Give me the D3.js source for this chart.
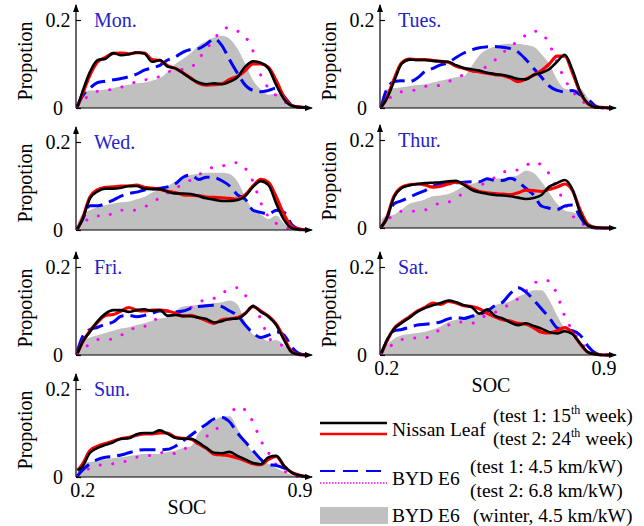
<!DOCTYPE html>
<html>
<head>
<meta charset="utf-8">
<script src="https://cdn.jsdelivr.net/npm/d3@7"></script>
<style>
  body { margin: 0; background: #fff; }
</style>
</head>
<body>
<script>
// SOC grid shared by every series
const soc = [0.185, 0.2, 0.225, 0.25, 0.275, 0.3, 0.325, 0.35, 0.375, 0.4, 0.425, 0.45, 0.475, 0.5,
  0.525, 0.55, 0.575, 0.6, 0.625, 0.65, 0.675, 0.7, 0.725, 0.75, 0.775, 0.8, 0.825, 0.85, 0.875, 0.9, 0.925];

const days = ["Mon.", "Tues.", "Wed.", "Thur.", "Fri.", "Sat.", "Sun."];

// Nissan Leaf, test 1 (15th week) - black
const nissanTest1 = [
  [0.003, 0.035, 0.082, 0.109, 0.112, 0.125, 0.12, 0.122, 0.126, 0.124, 0.105, 0.109, 0.094, 0.09, 0.079, 0.067, 0.058, 0.054, 0.056, 0.054, 0.06, 0.07, 0.094, 0.106, 0.103, 0.09, 0.052, 0.02, 0.005, 0.002, 0.001],
  [0.003, 0.019, 0.06, 0.101, 0.11, 0.109, 0.109, 0.107, 0.106, 0.105, 0.097, 0.091, 0.088, 0.085, 0.08, 0.077, 0.075, 0.071, 0.066, 0.065, 0.075, 0.08, 0.088, 0.105, 0.121, 0.086, 0.037, 0.01, 0.002, 0.001, 0],
  [0.003, 0.023, 0.072, 0.088, 0.094, 0.094, 0.096, 0.1, 0.1, 0.094, 0.093, 0.093, 0.087, 0.083, 0.083, 0.082, 0.077, 0.072, 0.069, 0.066, 0.066, 0.068, 0.077, 0.098, 0.111, 0.102, 0.06, 0.023, 0.004, 0.001, 0],
  [0.003, 0.019, 0.07, 0.091, 0.097, 0.1, 0.102, 0.103, 0.104, 0.106, 0.107, 0.098, 0.087, 0.081, 0.078, 0.075, 0.074, 0.072, 0.069, 0.066, 0.068, 0.075, 0.094, 0.102, 0.109, 0.087, 0.034, 0.005, 0.001, 0, 0],
  [0.004, 0.028, 0.053, 0.077, 0.094, 0.102, 0.102, 0.098, 0.102, 0.104, 0.1, 0.102, 0.089, 0.091, 0.089, 0.088, 0.085, 0.082, 0.074, 0.077, 0.082, 0.083, 0.094, 0.111, 0.098, 0.087, 0.068, 0.034, 0.006, 0.001, 0],
  [0.004, 0.03, 0.059, 0.073, 0.085, 0.098, 0.107, 0.113, 0.118, 0.124, 0.12, 0.113, 0.109, 0.094, 0.104, 0.089, 0.083, 0.074, 0.068, 0.072, 0.066, 0.06, 0.052, 0.049, 0.054, 0.047, 0.026, 0.006, 0.002, 0, 0],
  [0.015, 0.023, 0.055, 0.066, 0.073, 0.079, 0.087, 0.088, 0.097, 0.1, 0.1, 0.106, 0.098, 0.089, 0.087, 0.087, 0.078, 0.066, 0.055, 0.054, 0.057, 0.048, 0.04, 0.032, 0.029, 0.045, 0.048, 0.025, 0.01, 0.004, 0.001]
];

// Nissan Leaf, test 2 (24th week) - red
const nissanTest2 = [
  [0.004, 0.03, 0.075, 0.105, 0.115, 0.124, 0.125, 0.123, 0.126, 0.125, 0.11, 0.108, 0.096, 0.09, 0.08, 0.068, 0.056, 0.052, 0.053, 0.055, 0.065, 0.072, 0.085, 0.1, 0.1, 0.092, 0.062, 0.025, 0.006, 0.002, 0.001],
  [0.003, 0.02, 0.065, 0.103, 0.111, 0.11, 0.11, 0.108, 0.106, 0.104, 0.095, 0.09, 0.085, 0.082, 0.079, 0.076, 0.074, 0.068, 0.06, 0.066, 0.075, 0.085, 0.1, 0.118, 0.118, 0.08, 0.035, 0.009, 0.002, 0.001, 0],
  [0.003, 0.025, 0.075, 0.092, 0.097, 0.098, 0.1, 0.1, 0.102, 0.097, 0.095, 0.092, 0.088, 0.085, 0.08, 0.079, 0.078, 0.075, 0.074, 0.073, 0.072, 0.07, 0.08, 0.1, 0.115, 0.108, 0.075, 0.035, 0.008, 0.002, 0],
  [0.003, 0.02, 0.072, 0.093, 0.098, 0.1, 0.098, 0.093, 0.095, 0.1, 0.104, 0.1, 0.09, 0.083, 0.08, 0.078, 0.077, 0.076, 0.08, 0.086, 0.085, 0.083, 0.088, 0.093, 0.1, 0.085, 0.04, 0.008, 0.001, 0, 0],
  [0.004, 0.028, 0.055, 0.075, 0.09, 0.092, 0.1, 0.108, 0.102, 0.1, 0.102, 0.102, 0.1, 0.095, 0.088, 0.09, 0.085, 0.078, 0.072, 0.08, 0.082, 0.085, 0.095, 0.11, 0.1, 0.088, 0.07, 0.038, 0.008, 0.001, 0],
  [0.004, 0.028, 0.06, 0.075, 0.087, 0.1, 0.108, 0.118, 0.115, 0.122, 0.118, 0.112, 0.11, 0.105, 0.095, 0.087, 0.08, 0.077, 0.072, 0.07, 0.062, 0.052, 0.05, 0.055, 0.062, 0.05, 0.025, 0.006, 0.002, 0, 0],
  [0.015, 0.028, 0.06, 0.07, 0.076, 0.082, 0.087, 0.09, 0.095, 0.098, 0.098, 0.1, 0.1, 0.09, 0.088, 0.086, 0.075, 0.065, 0.052, 0.05, 0.048, 0.043, 0.037, 0.03, 0.028, 0.04, 0.047, 0.025, 0.01, 0.004, 0.001]
];

// BYD E6, test 1 (4.5 km/kW) - blue dashed
const bydTest1 = [
  [0.005, 0.026, 0.045, 0.058, 0.061, 0.064, 0.067, 0.071, 0.077, 0.086, 0.091, 0.097, 0.109, 0.116, 0.127, 0.133, 0.135, 0.145, 0.157, 0.142, 0.109, 0.079, 0.052, 0.04, 0.037, 0.04, 0.045, 0.026, 0.007, 0.002, 0.001],
  [0.005, 0.04, 0.06, 0.062, 0.06, 0.068, 0.083, 0.09, 0.098, 0.103, 0.115, 0.125, 0.132, 0.137, 0.139, 0.14, 0.138, 0.135, 0.127, 0.11, 0.09, 0.07, 0.05, 0.04, 0.037, 0.04, 0.03, 0.02, 0.004, 0, 0],
  [0.003, 0.022, 0.055, 0.055, 0.06, 0.068, 0.077, 0.083, 0.086, 0.091, 0.093, 0.095, 0.098, 0.105, 0.12, 0.125, 0.115, 0.12, 0.119, 0.112, 0.1, 0.08, 0.07, 0.045, 0.04, 0.036, 0.045, 0.04, 0.012, 0.002, 0],
  [0.003, 0.02, 0.055, 0.062, 0.07, 0.078, 0.085, 0.095, 0.1, 0.102, 0.103, 0.104, 0.105, 0.105, 0.112, 0.108, 0.108, 0.113, 0.105, 0.09, 0.075, 0.05, 0.045, 0.042, 0.05, 0.052, 0.025, 0.003, 0, 0, 0],
  [0.01, 0.04, 0.058, 0.063, 0.07, 0.075, 0.088, 0.09, 0.087, 0.09, 0.095, 0.1, 0.1, 0.098, 0.1, 0.106, 0.11, 0.112, 0.113, 0.11, 0.1, 0.09, 0.068, 0.05, 0.04, 0.045, 0.053, 0.045, 0.018, 0.003, 0],
  [0.005, 0.03, 0.055, 0.058, 0.063, 0.068, 0.07, 0.072, 0.075, 0.082, 0.085, 0.083, 0.088, 0.092, 0.1, 0.112, 0.12, 0.14, 0.153, 0.143, 0.125, 0.105, 0.085, 0.062, 0.057, 0.055, 0.045, 0.02, 0.004, 0, 0],
  [0.003, 0.015, 0.03, 0.04, 0.045, 0.047, 0.05, 0.055, 0.06, 0.062, 0.062, 0.062, 0.063, 0.07, 0.082, 0.095, 0.108, 0.12, 0.132, 0.135, 0.125, 0.1, 0.08, 0.06, 0.04, 0.028, 0.026, 0.02, 0.01, 0.003, 0]
];

// BYD E6, test 2 (6.8 km/kW) - magenta dotted
const bydTest2 = [
  [0.003, 0.015, 0.03, 0.038, 0.04, 0.043, 0.047, 0.053, 0.06, 0.064, 0.066, 0.072, 0.082, 0.085, 0.088, 0.092, 0.112, 0.134, 0.156, 0.178, 0.183, 0.175, 0.162, 0.13, 0.075, 0.045, 0.028, 0.015, 0.005, 0.001, 0],
  [0.003, 0.015, 0.03, 0.037, 0.039, 0.042, 0.049, 0.05, 0.052, 0.06, 0.068, 0.076, 0.082, 0.086, 0.095, 0.109, 0.125, 0.14, 0.152, 0.166, 0.175, 0.17, 0.145, 0.105, 0.065, 0.038, 0.02, 0.006, 0.001, 0, 0],
  [0.003, 0.012, 0.028, 0.032, 0.03, 0.04, 0.045, 0.044, 0.046, 0.052, 0.063, 0.073, 0.084, 0.095, 0.104, 0.114, 0.125, 0.137, 0.143, 0.145, 0.152, 0.153, 0.14, 0.11, 0.062, 0.03, 0.015, 0.006, 0.002, 0, 0],
  [0.002, 0.015, 0.03, 0.038, 0.038, 0.039, 0.041, 0.05, 0.057, 0.059, 0.068, 0.08, 0.089, 0.096, 0.105, 0.115, 0.126, 0.132, 0.132, 0.142, 0.15, 0.143, 0.123, 0.09, 0.058, 0.028, 0.012, 0.004, 0.001, 0, 0],
  [0.002, 0.012, 0.025, 0.035, 0.036, 0.036, 0.045, 0.053, 0.064, 0.065, 0.075, 0.087, 0.09, 0.094, 0.1, 0.108, 0.12, 0.126, 0.129, 0.14, 0.15, 0.153, 0.136, 0.112, 0.082, 0.04, 0.027, 0.02, 0.008, 0.001, 0],
  [0.003, 0.012, 0.026, 0.035, 0.038, 0.039, 0.039, 0.045, 0.06, 0.068, 0.075, 0.075, 0.072, 0.08, 0.092, 0.097, 0.105, 0.118, 0.128, 0.145, 0.162, 0.17, 0.168, 0.138, 0.088, 0.056, 0.03, 0.012, 0.003, 0, 0],
  [0.003, 0.01, 0.02, 0.026, 0.029, 0.03, 0.033, 0.038, 0.045, 0.047, 0.05, 0.055, 0.056, 0.053, 0.062, 0.072, 0.079, 0.092, 0.105, 0.12, 0.14, 0.16, 0.152, 0.125, 0.083, 0.055, 0.028, 0.014, 0.005, 0.001, 0]
];

// BYD E6, winter (4.5 km/kW) - grey area
const bydWinter = [
  [0.01, 0.035, 0.04, 0.04, 0.042, 0.045, 0.05, 0.053, 0.056, 0.058, 0.062, 0.068, 0.082, 0.1, 0.112, 0.125, 0.142, 0.152, 0.16, 0.164, 0.157, 0.135, 0.1, 0.063, 0.042, 0.03, 0.033, 0.025, 0.006, 0.001, 0],
  [0.02, 0.042, 0.045, 0.047, 0.05, 0.052, 0.054, 0.058, 0.062, 0.066, 0.07, 0.072, 0.095, 0.12, 0.133, 0.14, 0.145, 0.146, 0.146, 0.143, 0.139, 0.122, 0.1, 0.065, 0.044, 0.041, 0.043, 0.022, 0.003, 0, 0],
  [0.015, 0.035, 0.045, 0.052, 0.056, 0.06, 0.063, 0.065, 0.07, 0.075, 0.085, 0.092, 0.1, 0.11, 0.12, 0.125, 0.128, 0.13, 0.13, 0.13, 0.127, 0.11, 0.075, 0.045, 0.035, 0.025, 0.033, 0.015, 0.003, 0, 0],
  [0.02, 0.027, 0.03, 0.042, 0.055, 0.06, 0.065, 0.072, 0.074, 0.077, 0.085, 0.095, 0.1, 0.105, 0.11, 0.112, 0.113, 0.116, 0.12, 0.13, 0.125, 0.105, 0.08, 0.055, 0.04, 0.036, 0.03, 0.01, 0.002, 0, 0],
  [0.008, 0.03, 0.04, 0.045, 0.05, 0.055, 0.06, 0.063, 0.068, 0.072, 0.078, 0.083, 0.086, 0.1, 0.11, 0.112, 0.114, 0.116, 0.118, 0.12, 0.124, 0.115, 0.075, 0.047, 0.04, 0.032, 0.034, 0.022, 0.005, 0, 0],
  [0.01, 0.022, 0.037, 0.045, 0.048, 0.05, 0.053, 0.058, 0.065, 0.075, 0.08, 0.082, 0.09, 0.094, 0.105, 0.113, 0.118, 0.122, 0.133, 0.14, 0.147, 0.147, 0.125, 0.09, 0.06, 0.042, 0.028, 0.01, 0.002, 0, 0],
  [0.012, 0.033, 0.034, 0.038, 0.04, 0.043, 0.045, 0.048, 0.05, 0.052, 0.052, 0.053, 0.057, 0.06, 0.066, 0.07, 0.1, 0.116, 0.128, 0.137, 0.138, 0.11, 0.08, 0.055, 0.035, 0.03, 0.02, 0.012, 0.005, 0.001, 0]
];

const yTicks = [0, 0.2];
const xTicks = [0.2, 0.9];

let width = 644;
let height = 526;
let serif = "'Liberation Serif', 'Times New Roman', serif";
// where each panel's axes cross (y axis x, zero line y)
let panels = [
  { x: 76, y: 108 }, { x: 380, y: 108 },
  { x: 76, y: 230 }, { x: 380, y: 228 },
  { x: 76, y: 355 }, { x: 380, y: 355 },
  { x: 76, y: 477 }
];
let bottomPanels = [5, 6];

let xScale = d3.scaleLinear().domain([0.18, 0.94]).range([0, 236]);
let yScale = d3.scaleLinear().domain([0, 0.2]).range([0, -88]);

let svg = d3.select("body")
  .append("svg")
  .attr("width", width)
  .attr("height", height)
  .style("font-family", serif);

svg.append("defs")
  .append("marker")
  .attr("id", "arrow")
  .attr("viewBox", "0 0 8 6")
  .attr("refX", 7)
  .attr("refY", 3)
  .attr("markerWidth", 8)
  .attr("markerHeight", 6)
  .attr("markerUnits", "userSpaceOnUse")
  .attr("orient", "auto")
  .append("path")
  .attr("d", "M0,0L8,3L0,6Z")
  .attr("fill", "#000");

let lineOf = d3.line()
  .x((d, i) => xScale(soc[i]))
  .y((d) => yScale(d))
  .curve(d3.curveMonotoneX);
let areaOf = d3.area()
  .x((d, i) => xScale(soc[i]))
  .y0(yScale(0))
  .y1((d) => yScale(d))
  .curve(d3.curveMonotoneX);

days.forEach((day, i) => {
  let p = panels[i];
  let g = svg.append("g")
    .attr("transform", "translate(" + p.x + "," + p.y + ")");

  g.append("path")
    .attr("d", areaOf(bydWinter[i]))
    .attr("fill", "#c0c0c0");

  g.append("path")
    .attr("d", lineOf(bydTest2[i]))
    .attr("fill", "none")
    .attr("stroke", "#ff00ff")
    .attr("stroke-width", 3)
    .attr("stroke-linecap", "round")
    .attr("stroke-dasharray", "0.1,12.5");

  g.append("path")
    .attr("d", lineOf(bydTest1[i]))
    .attr("fill", "none")
    .attr("stroke", "#0000ff")
    .attr("stroke-width", 3)
    .attr("stroke-dasharray", "16,7");

  g.append("path")
    .attr("d", lineOf(nissanTest2[i]))
    .attr("fill", "none")
    .attr("stroke", "#ff0000")
    .attr("stroke-width", 3.2);

  g.append("path")
    .attr("d", lineOf(nissanTest1[i]))
    .attr("fill", "none")
    .attr("stroke", "#000")
    .attr("stroke-width", 2.6);

  // axes with arrow heads
  g.append("line")
    .attr("x1", 0).attr("y1", 0)
    .attr("x2", 0).attr("y2", -103)
    .attr("stroke", "#000").attr("stroke-width", 1.2)
    .attr("marker-end", "url(#arrow)");
  g.append("line")
    .attr("x1", 0).attr("y1", 0)
    .attr("x2", 236).attr("y2", 0)
    .attr("stroke", "#000").attr("stroke-width", 1.2)
    .attr("marker-end", "url(#arrow)");

  let yAxis = d3.axisLeft(yScale)
    .tickValues(yTicks)
    .tickSizeInner(-5)
    .tickSizeOuter(0)
    .tickFormat(d3.format("~g"));
  let ya = g.append("g").call(yAxis);
  ya.select(".domain").remove();
  ya.attr("font-size", 20).attr("font-family", serif);
  ya.selectAll(".tick line").attr("stroke-width", 1.2);
  ya.selectAll("text")
    .attr("x", -18)
    .attr("text-anchor", "middle");

  if (bottomPanels.includes(i)) {
    let xAxis = d3.axisBottom(xScale)
      .tickValues(xTicks)
      .tickSize(0)
      .tickPadding(6)
      .tickFormat(d3.format("~g"));
    let xa = g.append("g").call(xAxis);
    xa.select(".domain").remove();
    xa.attr("font-size", 20).attr("font-family", serif);

    g.append("text")
      .attr("x", 111)
      .attr("y", 37)
      .attr("text-anchor", "middle")
      .style("font-family", serif)
      .style("font-size", "20px")
      .text("SOC");
  }

  g.append("text")
    .attr("transform", "translate(-51," + (-47) + ") rotate(-90)")
    .attr("text-anchor", "middle")
    .attr("dominant-baseline", "central")
    .style("font-family", serif)
    .style("font-size", "20px")
    .text("Propotion");

  g.append("text")
    .attr("x", 18)
    .attr("y", -81)
    .style("font-family", serif)
    .style("font-size", "20px")
    .style("fill", "#2323c8")
    .text(day);
});

// legend
let legend = svg.append("g").attr("class", "legend");
let legendFont = "19.5px";

legend.append("line")
  .attr("x1", 320).attr("x2", 387).attr("y1", 423).attr("y2", 423)
  .attr("stroke", "#000").attr("stroke-width", 2.5);
legend.append("line")
  .attr("x1", 320).attr("x2", 387).attr("y1", 434).attr("y2", 434)
  .attr("stroke", "#ff0000").attr("stroke-width", 2.5);
legend.append("line")
  .attr("x1", 320).attr("x2", 387).attr("y1", 471).attr("y2", 471)
  .attr("stroke", "#0000ff").attr("stroke-width", 2)
  .attr("stroke-dasharray", "15,8");
legend.append("line")
  .attr("x1", 320).attr("x2", 387).attr("y1", 483).attr("y2", 483)
  .attr("stroke", "#ff00ff").attr("stroke-width", 1.5)
  .attr("stroke-dasharray", "1.5,1.5");
legend.append("rect")
  .attr("x", 320).attr("y", 507).attr("width", 68).attr("height", 17)
  .attr("fill", "#c0c0c0");

let legendNames = [
  { text: "Nissan Leaf", x: 392, y: 436 },
  { text: "BYD E6", x: 392, y: 485 },
  { text: "BYD E6", x: 392, y: 522 }
];
legend.selectAll("text.name")
  .data(legendNames)
  .join("text")
  .attr("class", "name")
  .attr("x", (d) => d.x)
  .attr("y", (d) => d.y)
  .style("font-family", serif)
  .style("font-size", legendFont)
  .text((d) => d.text);

let legendNotes = [
  { pre: "(test 1: 15", sup: "th", post: " week)", x: 493, y: 422 },
  { pre: "(test 2: 24", sup: "th", post: " week)", x: 493, y: 445 },
  { pre: "(test 1: 4.5 km/kW)", sup: "", post: "", x: 470, y: 473 },
  { pre: "(test 2: 6.8 km/kW)", sup: "", post: "", x: 470, y: 497 },
  { pre: "(winter, 4.5 km/kW)", sup: "", post: "", x: 473, y: 522 }
];
legendNotes.forEach((d) => {
  let t = legend.append("text")
    .attr("x", d.x)
    .attr("y", d.y)
    .style("font-family", serif)
    .style("font-size", legendFont);
  t.append("tspan").text(d.pre);
  if (d.sup) {
    t.append("tspan").attr("dy", -8).style("font-size", "12px").text(d.sup);
    t.append("tspan").attr("dy", 8).text(d.post);
  }
});
</script>
</body>
</html>
